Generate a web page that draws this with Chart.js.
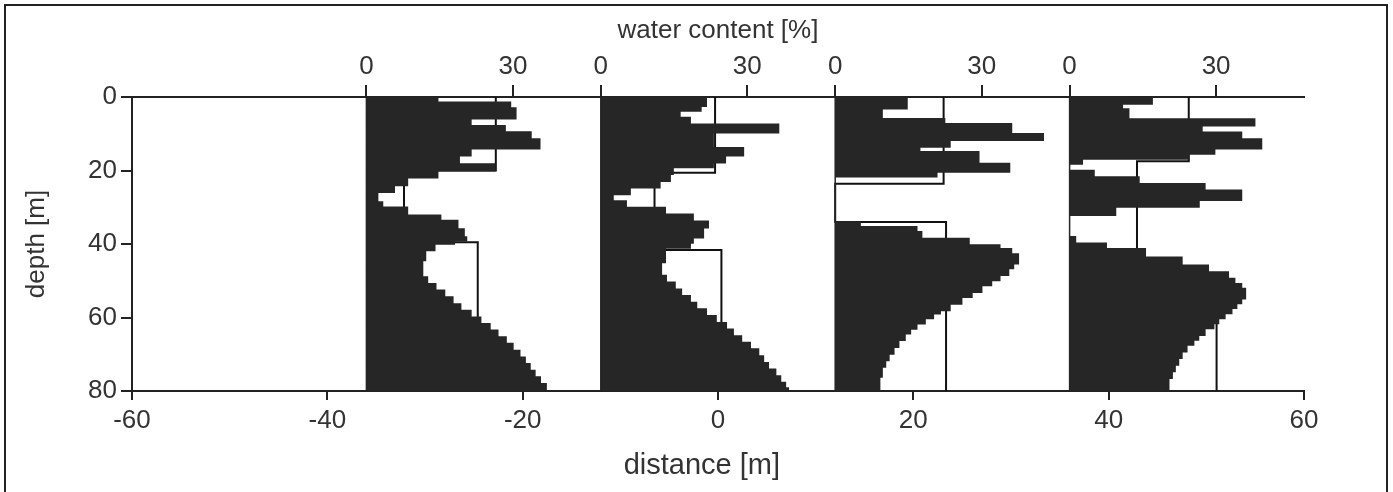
<!DOCTYPE html>
<html lang="en">
<head>
  <meta charset="UTF-8">
  <title>Water content profiles</title>
  <script src="https://cdn.jsdelivr.net/npm/chart.js"></script>
  <style>
    html, body { margin: 0; padding: 0; background: #fff; overflow: hidden; }
    .frame { position: absolute; left: 4px; top: 4px; width: 1384px; height: 488px; border: 2px solid #222; border-bottom: none; box-sizing: border-box; }
    #chart { position: absolute; left: 0; top: 0; }
  </style>
</head>
<body>
  <div class="frame"></div>
  <canvas id="chart" width="1393" height="492"></canvas>

  <script>
    // distance [m] where each profile's 0 % line sits
    const profileStart = [-36, -12, 12, 36];
    const waterTicks = [0, 30];
    const metresPerPercent = 0.5;

    // water content [%] per layer, layer tops in depth [m]
    const depth1 = [0, 1.4, 3, 5.9, 7.8, 9.5, 11.4, 14.1, 16, 18.2, 20.1, 22, 24.1, 25.9, 28.6, 30, 32.2, 33.6, 35.9, 38.1,
      39.1, 40, 41.8, 44.5, 49, 50.8, 52.6, 54.4, 56.3, 58.1, 59.9, 61.7, 63.5, 65.3, 67.1, 69, 70.8, 72.6, 74.4, 76.2, 78];
    const water1 = [14.6, 29.5, 30.6, 21.4, 28.4, 33.7, 35.5, 21.4, 19, 26.3, 14.6, 8.4, 5.7, 2.3, 3.3, 8.4, 15.2, 18.7, 20, 20.5,
      18, 14, 12.1, 11.5, 12.5, 14.2, 16, 17.7, 19.3, 21.4, 23.4, 25.3, 26.9, 28.6, 30, 31.4, 32.5, 33.5, 34.5, 35.6, 36.8];

    const depth2 = [0, 2.5, 3.8, 5.6, 7.4, 9.7, 13.8, 16, 17.9, 19.2, 21, 22.9, 24.7, 26.5, 28.3, 30.1, 31.9, 33.8, 35.6, 38.3,
      39.7, 41.1, 45, 48.6, 50.4, 52.3, 54.1, 55.9, 57.7, 59.5, 61.4, 63.2, 65, 66.8, 68.6, 70.5, 72.3, 74.1, 75.9, 77.7, 79.2];
    const water2 = [21.6, 20.5, 16.2, 18.3, 36.4, 23, 29.2, 25.5, 23, 14.8, 14.2, 12.1, 6, 2.5, 5.2, 13.2, 18.9, 22, 21, 18.9,
      18.3, 13.2, 12.4, 13.4, 15.2, 16.5, 18.3, 19.6, 21.6, 23.6, 25.7, 27.1, 28.8, 30.6, 32.3, 33.3, 34.3, 35.8, 36.8, 37.8, 38.4];

    const depth3 = [0, 3.2, 5.9, 7.25, 10, 11.8, 13.6, 14.9, 18.1, 20.4, 21.7, 34, 35.3, 36.7, 38.5, 40.3, 41.3, 42.7, 45.4,
      46.7, 48.5, 49.9, 51.3, 53.1, 54.5, 56.3, 58.1, 59, 60.3, 61.7, 63.1, 64.4, 66.2, 68.1, 69.9, 71.7, 73.5, 76.2];
    const water3 = [14.7, 9.6, 22.4, 36.1, 42.6, 23.5, 17.3, 29.4, 35.7, 20.8, 0, 5.1, 16.7, 17.7, 27.4, 33.7, 36.1, 37.5, 36.5,
      35.5, 33.7, 32, 30, 28, 25.9, 23.5, 21.5, 20.1, 18.4, 16.7, 15.4, 14.3, 13, 12, 11, 10.3, 9.6, 9.1];

    const depth4 = [0, 1.9, 3.25, 6, 7.8, 9.6, 11.4, 14.1, 15.5, 16.9, 18.2, 20, 21.8, 23.6, 25.4, 28.1, 29.9, 32.2, 38,
      39.8, 41.3, 43.6, 45.8, 47.6, 49.4, 50.8, 52.1, 54.9, 56.2, 57.5, 58.9, 60.3, 61.6, 63, 64.8, 66.1, 67.5, 69.3, 71.1, 72.9, 74.7, 76.5];
    const water4 = [16.9, 10.8, 12.1, 37.9, 27.1, 35.2, 39.3, 29.7, 24.4, 2.6, 0, 5, 14.2, 27.7, 35.2, 26.5, 9.4, 0, 1.2,
      7.5, 15.5, 23, 28.4, 32.5, 33.8, 35.2, 36, 35.2, 34.2, 33.2, 31.8, 30.5, 29.5, 27.7, 26.4, 25.4, 24, 23, 22.3, 21.6, 21, 20.3];

    // layer means (step outline)
    const layerDepth1 = [0, 20, 39.5],   layerWater1 = [26.5, 7.7, 22.8];
    const layerDepth2 = [0, 20.6, 41.6], layerWater2 = [23.4, 11, 24.7];
    const layerDepth3 = [0, 23.6, 34],   layerWater3 = [22.2, 0, 22.7];
    const layerDepth4 = [0, 17.5, 51.6], layerWater4 = [24.4, 13.8, 30.1];

    const maxDepth = 80;

    function steps(start, tops, water) {
      const pts = [];
      tops.forEach((t, i) => {
        const bottom = i + 1 < tops.length ? tops[i + 1] : maxDepth;
        const x = start + water[i] * metresPerPercent;
        pts.push({ x: x, y: t }, { x: x, y: bottom });
      });
      return pts;
    }

    function histogram(start, tops, water) {
      return [{ x: start, y: 0 }].concat(steps(start, tops, water), [{ x: start, y: maxDepth }, { x: start, y: 0 }]);
    }

    const profiles = [
      [depth1, water1, layerDepth1, layerWater1],
      [depth2, water2, layerDepth2, layerWater2],
      [depth3, water3, layerDepth3, layerWater3],
      [depth4, water4, layerDepth4, layerWater4]
    ];

    const datasets = [];
    profiles.forEach((p, i) => {
      datasets.push({
        data: histogram(profileStart[i], p[0], p[1]),
        borderColor: '#262626', backgroundColor: '#262626', borderWidth: 1.5,
        fill: 'shape', pointRadius: 0, tension: 0
      });
    });
    profiles.forEach((p, i) => {
      datasets.push({
        data: steps(profileStart[i], p[2], p[3]),
        borderColor: '#111', borderWidth: 2, fill: false, pointRadius: 0, tension: 0
      });
    });

    // top axis: 0 and 30 % at each profile
    const topTickValues = [], topTickLabels = [];
    profileStart.forEach(s => waterTicks.forEach(w => {
      topTickValues.push(s + w * metresPerPercent);
      topTickLabels.push(String(w));
    }));

    const font = { family: '"Liberation Sans", Arial, sans-serif', size: 26 };
    const ink = '#333';

    new Chart(document.getElementById('chart'), {
      type: 'line',
      data: { datasets },
      options: {
        responsive: false,
        animation: false,
        layout: { padding: { left: 0, right: 89, top: 0, bottom: 0 } },
        plugins: { legend: { display: false }, tooltip: { enabled: false } },
        scales: {
          x: {
            type: 'linear', position: 'bottom', min: -60, max: 60,
            ticks: { stepSize: 20, font, color: ink, padding: 5, maxRotation: 0 },
            grid: { drawOnChartArea: false, tickLength: 9, color: '#222', lineWidth: 2 },
            border: { color: '#222', width: 2 },
            // trailing spaces nudge the title a little left, as in the original
            title: { display: true, text: 'distance [m]    ', font: { family: font.family, size: 29 }, color: ink,
              padding: { top: 0, bottom: 9 } },
            afterFit: s => { s.height = 101; }
          },
          xTop: {
            axis: 'x', type: 'linear', position: 'top', min: -60, max: 60,
            afterBuildTicks: s => { s.ticks = topTickValues.map(v => ({ value: v })); },
            ticks: { autoSkip: false, maxRotation: 0, font, color: ink, padding: 3,
              callback: (v, i) => topTickLabels[i] },
            grid: { drawOnChartArea: false, tickLength: 12, color: '#222', lineWidth: 2 },
            border: { color: '#222', width: 2 },
            title: { display: true, text: 'water content [%]', font, color: ink, padding: { top: 15, bottom: 0 } },
            afterFit: s => { s.height = 97; }
          },
          y: {
            type: 'linear', reverse: true, min: 0, max: maxDepth,
            ticks: { stepSize: 20, font, color: ink, padding: 4 },
            grid: { drawOnChartArea: false, tickLength: 11, color: '#222', lineWidth: 2 },
            border: { color: '#222', width: 2 },
            title: { display: true, text: 'depth [m]', font, color: ink, padding: { top: 21, bottom: 0 } },
            afterFit: s => { s.width = 132; }
          }
        }
      }
    });
  </script>
</body>
</html>
